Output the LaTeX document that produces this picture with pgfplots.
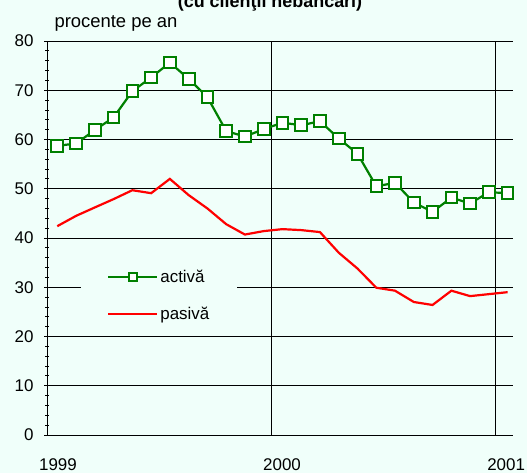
\documentclass[border=0pt]{standalone}
\usepackage{pgfplots}
\pgfplotsset{compat=1.18}
\usepackage{fontspec}
\setmainfont{Liberation Sans}
\definecolor{bg}{RGB}{240,255,250}
\definecolor{grn}{RGB}{0,128,0}
\definecolor{rd}{RGB}{255,0,0}
\begin{document}
\begin{tikzpicture}[x=1bp,y=1bp]
\fill[bg] (0,0) rectangle (527,473);
\useasboundingbox (0,0) rectangle (527,473);
\node[anchor=base, font=\bfseries\fontsize{18}{20}\selectfont] at (270,465) {(cu clienţii nebancari)};
\node[anchor=base west, font=\fontsize{18.5}{21}\selectfont] at (51,445) {procente pe an};
\begin{axis}[
  at={(47bp,38bp)}, anchor=south west,
  width=466bp, height=394bp, scale only axis,
  xmin=0, xmax=24.96, ymin=0, ymax=80,
  axis x line=bottom, axis y line=left,
  axis line style={-, black, line width=0.9bp},
  xtick={0,12,24}, xticklabels={1999,2000,2001},
  xtick style={draw=none},
  ytick={0,10,...,80}, minor y tick num=4,
  ytick pos=left,
  major tick length=6bp, minor tick length=4bp,
  tick align=center,
  ytick style={black, line width=0.8bp},
  minor tick style={black, line width=0.8bp},
  xmajorgrids, ymajorgrids,
  grid style={black, line width=0.8bp},
  tick label style={font=\fontsize{17}{20}\selectfont},
  /pgf/number format/assume math mode=true,
  yticklabel style={xshift=-7bp},
  xticklabel style={xshift=11bp, yshift=-17bp},
  legend style={at={(axis cs:1.82,35.6)}, anchor=north west, draw=none, fill=bg,
    font=\fontsize{17}{20}\selectfont, row sep=19bp, inner xsep=26bp, inner ysep=8bp,
    nodes={inner sep=2bp}},
  legend cell align=left,
  legend image code/.code={\draw[#1, mark repeat=2, mark phase=2, mark size=4.2bp] plot coordinates {(0bp,0bp) (24.5bp,0bp) (49bp,0bp)};},
]
\addplot[grn, line width=2.2bp, mark=square*, mark size=5.8bp, mark options={fill=white, draw=grn, line width=2bp}] coordinates {
(0.55,58.7) (1.56,59.2) (2.56,61.9) (3.57,64.5) (4.57,69.8) (5.58,72.6) (6.58,75.6) (7.59,72.3) (8.59,68.6) (9.60,61.7) (10.60,60.6) (11.61,62.1) (12.61,63.4) (13.62,62.9) (14.62,63.7) (15.63,60.2) (16.63,57.1) (17.64,50.5) (18.64,51.2) (19.65,47.2) (20.65,45.3) (21.66,48.2) (22.66,47.0) (23.67,49.3) (24.67,49.1)
};
\addlegendentry{activă}
\addplot[rd, line width=2.2bp] coordinates {
(0.55,42.4) (1.56,44.5) (2.56,46.2) (3.57,47.9) (4.57,49.7) (5.58,49.1) (6.58,52.0) (7.59,48.7) (8.59,46.0) (9.60,42.8) (10.60,40.7) (11.61,41.4) (12.61,41.8) (13.62,41.6) (14.62,41.2) (15.63,37.0) (16.63,33.8) (17.64,29.9) (18.64,29.3) (19.65,27.0) (20.65,26.4) (21.66,29.3) (22.66,28.2) (23.67,28.6) (24.67,29.0)
};
\addlegendentry{pasivă}
\end{axis}
\end{tikzpicture}
\end{document}
